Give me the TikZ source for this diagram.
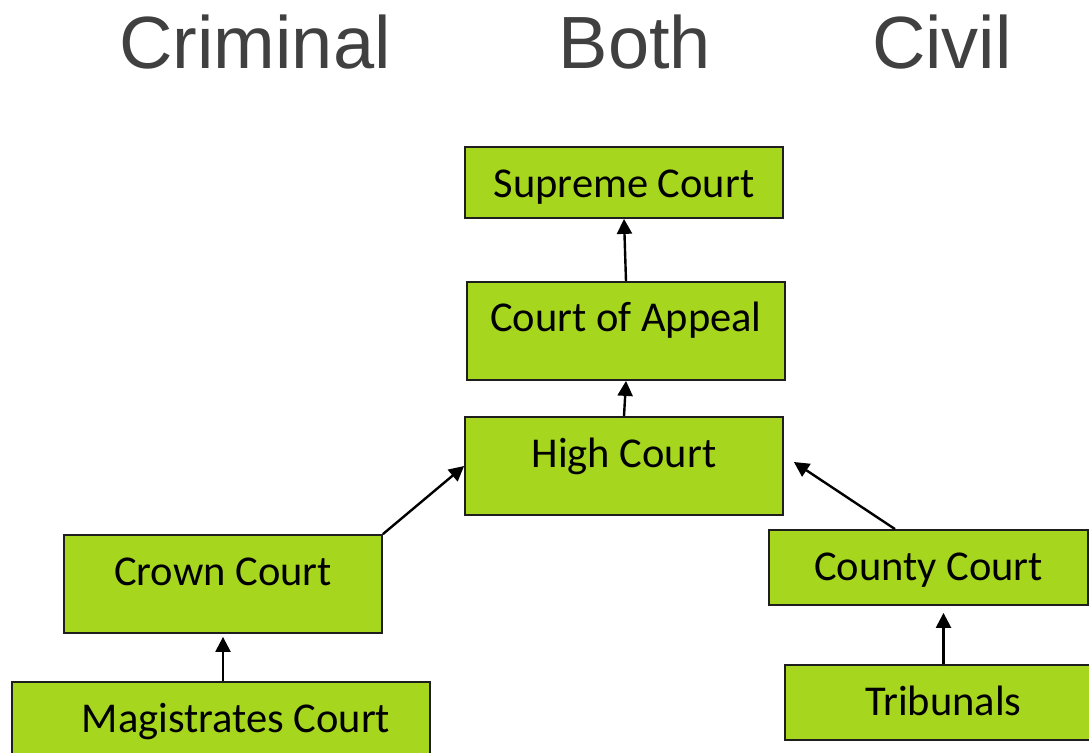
\documentclass[tikz,border=0pt]{standalone}
\usepackage{fontspec}
\setmainfont{Carlito}
\newfontfamily\hdrfont{Liberation Sans}
\usetikzlibrary{arrows.meta}
\definecolor{courtgreen}{RGB}{166,215,30}
\definecolor{hdrgray}{RGB}{64,64,64}
\definecolor{edgegray}{RGB}{30,30,30}
\begin{document}
\begin{tikzpicture}[x=1pt,y=-1pt,
  court/.style={draw=edgegray, line width=1.8pt, fill=courtgreen, inner sep=0pt,
    font=\fontsize{42.5}{50}\selectfont, text=black},
  hdr/.style={font=\hdrfont\fontsize{74}{88}\selectfont, text=hdrgray, anchor=base, inner sep=0pt},
  link/.style={line width=2.4pt, -{Triangle[length=15pt,width=15pt]}}]
\useasboundingbox (0,0) rectangle (1089,752);
\clip (0,0) rectangle (1089,752);
\node[hdr] (crim) at (255,68) {Criminal};
\node[hdr] (both) at (635,68) {Both};
\node[hdr] (civ) at (942,68) {Civil};
\node[court, minimum width=318pt, minimum height=71pt, text height=30pt, text depth=0pt] (sc) at (624,182.5) {Supreme Court};
\node[court, minimum width=318pt, minimum height=98pt, text height=26pt, text depth=26pt] (coa) at (626,331) {Court of Appeal};
\node[court, minimum width=318pt, minimum height=98pt, text height=26pt, text depth=24pt] (hc) at (624,466) {High Court};
\node[court, minimum width=318pt, minimum height=98pt, text height=26pt, text depth=24pt] (crown) at (223,584) {Crown Court};
\node[court, minimum width=418pt, minimum height=100pt, text height=25pt, text depth=25pt] (mag) at (221,732) {\hspace*{30pt}Magistrates Court};
\node[court, minimum width=319pt, minimum height=75pt, text height=27pt, text depth=2pt] (county) at (928.5,567.5) {County Court};
\node[court, minimum width=317pt, minimum height=75pt, text height=27pt, text depth=2pt] (trib) at (943.5,702.5) {Tribunals};
\coordinate (hcR) at ([xshift=10pt,yshift=4pt]hc.east);
\draw[link] (coa.north) -- (sc.south);
\draw[link] (hc.north) -- (coa.south);
\draw[link] (crown.north east) -- (hc.west);
\draw[link] ([xshift=-33.5pt]county.north) -- (hcR);
\draw[link, shorten >=3pt] (crown.south |- mag.north) -- (crown.south);
\draw[link, shorten >=7pt] (trib.north) -- (trib.north |- county.south);
\end{tikzpicture}
\end{document}
